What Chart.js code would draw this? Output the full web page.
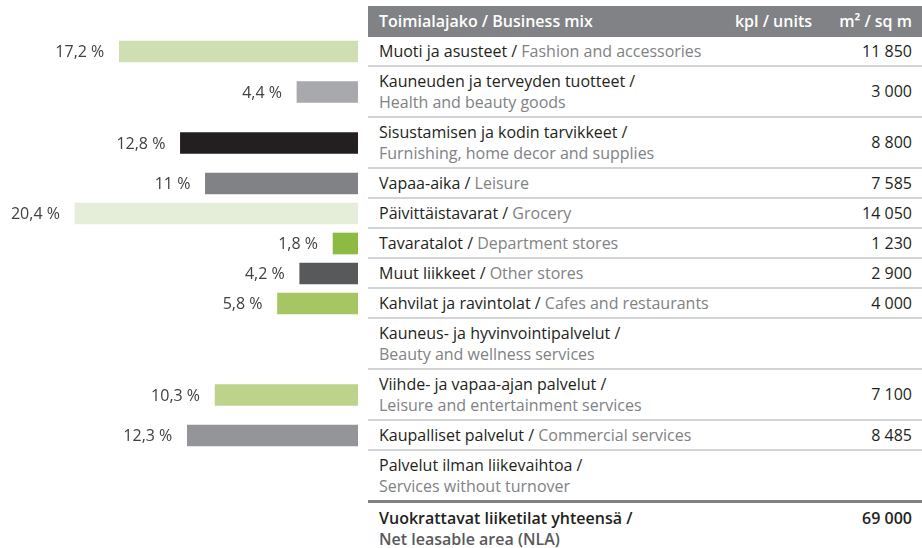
<!DOCTYPE html>
<html>
<head>
<meta charset="utf-8">
<script src="https://cdn.jsdelivr.net/npm/chart.js@4.4.0/dist/chart.umd.min.js"></script>
<style>
  html, body { margin: 0; padding: 0; background: #fff; }
  body { width: 922px; height: 548px; position: relative; overflow: hidden; font-family: "Open Sans", sans-serif; }
  #barWrap { position: absolute; left: 0; top: 0; width: 358px; height: 548px; }
  table { position: absolute; left: 368px; top: 6px; width: 554px; table-layout: fixed;
          border-collapse: separate; border-spacing: 0; font-size: 16px; line-height: 21px; color: #231f20; }
  th { background: #808285; color: #fff; font-weight: 600; height: 31px; padding: 0 11px; text-align: left; white-space: nowrap; }
  td { padding: 3.5px 11px; border-bottom: 2px solid #d1d3d4; vertical-align: middle; }
  th.num, td.num { text-align: right; padding-right: 10px; }
  th.kpl, td.kpl { padding-right: 11px; }
  .en { color: #808285; display: inline-block; }
  tr.last td { border-bottom: none; }
  tr.total td { border-top: 3px solid #808285; border-bottom: none; font-weight: 600; vertical-align: top; padding-top: 5px; }
  tr.total .en { color: #58595b; }
</style>
</head>
<body>
<div id="barWrap"><canvas id="shareChart"></canvas></div>
<table id="mix">
  <colgroup><col style="width:354px"><col style="width:101px"><col style="width:99px"></colgroup>
  <thead><tr id="head"></tr></thead>
  <tbody id="rows"></tbody>
</table>
<script>
// table / chart data
const headers = ['Toimialajako / Business mix', 'kpl / units', 'm² / sq m'];
const namesFi = ['Muoti ja asusteet', 'Kauneuden ja terveyden tuotteet', 'Sisustamisen ja kodin tarvikkeet',
                 'Vapaa-aika', 'Päivittäistavarat', 'Tavaratalot', 'Muut liikkeet', 'Kahvilat ja ravintolat',
                 'Kauneus- ja hyvinvointipalvelut', 'Viihde- ja vapaa-ajan palvelut', 'Kaupalliset palvelut',
                 'Palvelut ilman liikevaihtoa'];
const namesEn = ['Fashion and accessories', 'Health and beauty goods', 'Furnishing, home decor and supplies',
                 'Leisure', 'Grocery', 'Department stores', 'Other stores', 'Cafes and restaurants',
                 'Beauty and wellness services', 'Leisure and entertainment services', 'Commercial services',
                 'Services without turnover'];
const shares = [17.2, 4.4, 12.8, 11, 20.4, 1.8, 4.2, 5.8, null, 10.3, 12.3, null];
const areas = [11850, 3000, 8800, 7585, 14050, 1230, 2900, 4000, null, 7100, 8485, null];
const totalFi = 'Vuokrattavat liiketilat yhteensä';
const totalEn = 'Net leasable area (NLA)';
const totalArea = 69000;

const barColors = ['#d0dfb1', '#a7a9ac', '#231f20', '#808285', '#e5eed9', '#8dba43',
                   '#58595b', '#a6c663', null, '#bdd38c', '#939598', null];

const fmtNum = n => n == null ? '' : String(n).replace(/\B(?=(\d{3})+(?!\d))/g, '\u00a0');
const fmtPct = v => String(v).replace('.', ',') + ' %';

// build the table
const head = document.getElementById('head');
headers.forEach((h, i) => {
    const th = document.createElement('th');
    th.textContent = h;
    if (i == 1) th.className = 'num kpl';
    if (i == 2) th.className = 'num';
    head.appendChild(th);
});

const body = document.getElementById('rows');
const rowEls = [];
function addRow(fi, en, area, cls) {
    const tr = document.createElement('tr');
    if (cls) tr.className = cls;
    tr.innerHTML = '<td><span>' + fi + ' /</span> <span class="en">' + en + '</span></td>' +
                   '<td class="num kpl"></td><td class="num">' + fmtNum(area) + '</td>';
    body.appendChild(tr);
    return tr;
}
namesFi.forEach((fi, i) => {
    rowEls.push(addRow(fi, namesEn[i], areas[i], i == namesFi.length - 1 ? 'last' : ''));
});
addRow(totalFi, totalEn, totalArea, 'total');

// bars: y position taken from the laid-out table rows
const wrap = document.getElementById('barWrap');
const points = [];
rowEls.forEach((tr, i) => {
    if (shares[i] == null) return;
    const td = tr.cells[0];
    const r = td.getBoundingClientRect();
    points.push({ x: shares[i], y: r.top + td.clientHeight / 2 + 0.5, c: barColors[i] });
});

const pctLabels = {
    id: 'pctLabels',
    afterDatasetsDraw(chart) {
        const ctx = chart.ctx;
        const meta = chart.getDatasetMeta(0);
        ctx.save();
        ctx.font = '16px "Open Sans"';
        ctx.fillStyle = '#414042';
        ctx.textAlign = 'right';
        ctx.textBaseline = 'middle';
        meta.data.forEach((bar, i) => {
            ctx.fillText(fmtPct(points[i].x), bar.x - 15, bar.y + 1);
        });
        ctx.restore();
    }
};

new Chart(document.getElementById('shareChart'), {
    type: 'bar',
    data: {
        datasets: [{
            data: points.map(p => ({ x: p.x, y: p.y })),
            backgroundColor: points.map(p => p.c),
            borderWidth: 0,
            barThickness: 21
        }]
    },
    options: {
        indexAxis: 'y',
        responsive: true,
        maintainAspectRatio: false,
        animation: false,
        layout: { padding: 0 },
        scales: {
            x: { type: 'linear', reverse: true, min: 0, max: 25.8, display: false },
            y: { type: 'linear', reverse: true, min: 0, max: wrap.clientHeight, offset: false, display: false }
        },
        plugins: {
            legend: { display: false },
            tooltip: { enabled: false }
        }
    },
    plugins: [pctLabels]
});
</script>
</body>
</html>
